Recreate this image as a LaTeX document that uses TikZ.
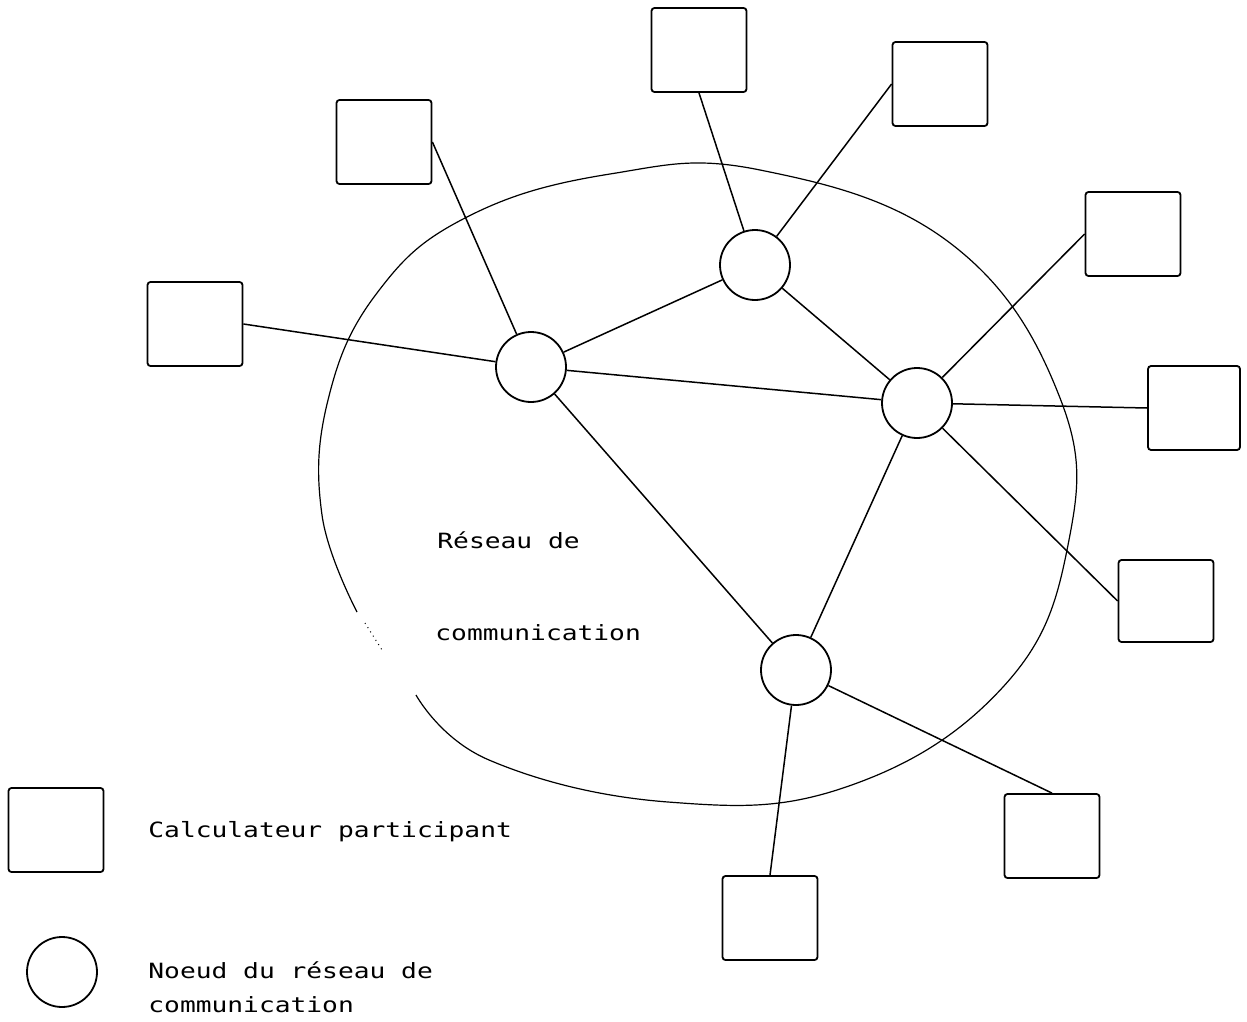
\documentclass[tikz,border=0pt]{standalone}
\usepackage{fontspec}
\setmonofont[FakeStretch=1.25]{DejaVu Sans Mono}
\begin{document}
\begin{tikzpicture}[x=0.5pt,y=-0.5pt,
  host/.style={draw,line width=0.9pt,rounded corners=1.5pt,minimum width=47.5pt,minimum height=42pt,inner sep=0pt},
  relay/.style={draw,circle,line width=0.9pt,minimum size=35pt,inner sep=0pt},
  link/.style={line width=0.75pt},
  label/.style={font=\ttfamily\fontsize{10.5}{12}\selectfont,anchor=base west,inner sep=0pt}]
\useasboundingbox (0,0) rectangle (1247,1022);

% network boundary
\draw[line width=0.6pt] plot[smooth,tension=0.7] coordinates {
  (357,612) (322,515) (328,400) (377,293) (467,217) (610,174) (760,170)
  (950,243) (1060,398) (1068,545) (1003,687) (846,787) (668,802)
  (489,760) (416,695)};
\draw[line width=0.5pt,dotted] (365,623) -- (382,650);

% computers
\node[host] (b1) at (699,50) {};
\node[host] (b2) at (940,84) {};
\node[host] (b3) at (384,142) {};
\node[host] (b4) at (1133,234) {};
\node[host] (b5) at (195,324) {};
\node[host,minimum width=46pt] (b6) at (1194,408) {};
\node[host,minimum height=41pt] (b7) at (1166,601) {};
\node[host] (b8) at (1052,836) {};
\node[host] (b9) at (770,918) {};

% network nodes
\node[relay] (n1) at (531,367) {};
\node[relay] (n2) at (755,265) {};
\node[relay] (n3) at (917,403) {};
\node[relay] (n4) at (796,670) {};

% links
\draw[link] (b3.east) -- (n1);
\draw[link] (b5.east) -- (n1);
\draw[link] (n1) -- (n2);
\draw[link] (n1) -- (n3);
\draw[link] (n1) -- (n4);
\draw[link] (b1.south) -- (n2);
\draw[link] (b2.west) -- (n2);
\draw[link] (n2) -- (n3);
\draw[link] (b4.west) -- (n3);
\draw[link] (n3) -- (b6.west);
\draw[link] (n3) -- (b7.west);
\draw[link] (n3) -- (n4);
\draw[link] (n4) -- (b8.north);
\draw[link] (n4) -- (b9.north);

\node[label] (t1) at (437,548) {Réseau de};
\node[label] (t2) at (435,640) {communication};

% legend
\node[host] (lb) at (56,830) {};
\node[relay] (lc) at (62,972) {};
\node[label] (l1) at (148,837) {Calculateur participant};
\node[label] (l2) at (148,978) {Noeud du réseau de};
\node[label] (l3) at (148,1012) {communication};
\end{tikzpicture}
\end{document}
